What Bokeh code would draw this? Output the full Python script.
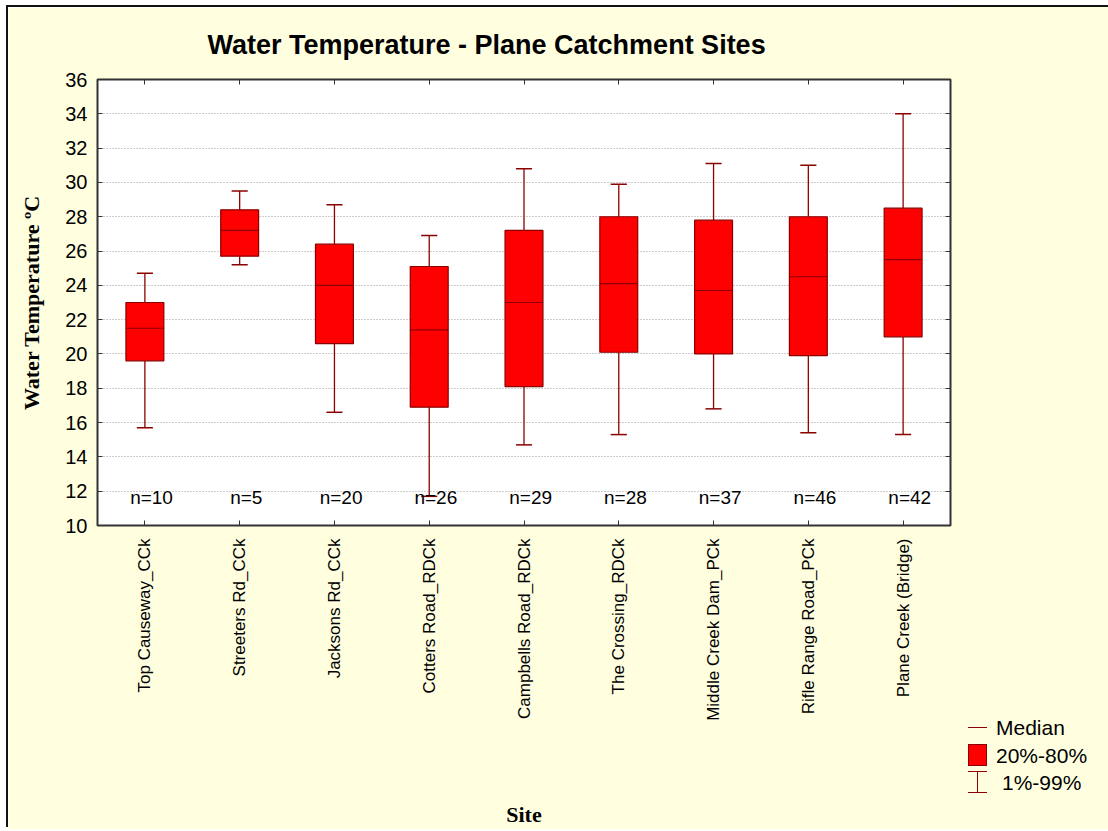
import math
from bokeh.plotting import figure
from bokeh.layouts import row
from bokeh.models import ColumnDataSource, FixedTicker, LinearAxis, Range1d, Div
from bokeh.core.properties import value
from bokeh.embed import file_html
from bokeh.resources import INLINE

categories = ["Top Causeway_CCk", "Streeters Rd_CCk", "Jacksons Rd_CCk",
              "Cotters Road_RDCk", "Campbells Road_RDCk", "The Crossing_RDCk",
              "Middle Creek Dam_PCk", "Rifle Range Road_PCk", "Plane Creek (Bridge)"]
p01 = [15.7, 25.2, 16.6, 11.7, 14.7, 15.3, 16.8, 15.4, 15.3]
q20 = [19.6, 25.7, 20.6, 16.9, 18.1, 20.1, 20.0, 19.9, 21.0]
median = [21.5, 27.2, 24.0, 21.4, 23.0, 24.1, 23.7, 24.5, 25.5]
q80 = [23.0, 28.4, 26.4, 25.1, 27.2, 28.0, 27.8, 28.0, 28.5]
p99 = [24.7, 29.5, 28.7, 26.9, 30.8, 29.9, 31.1, 31.0, 34.0]
counts = [10, 5, 20, 26, 29, 28, 37, 46, 42]
y_ticks = list(range(10, 37, 2))
legend_labels = ["Median", "20%-80%", "1%-99%"]

CREAM = "#FFFFE0"
DARK = "#8B0000"
RED = "#FF0000"
SANS = "Liberation Sans"
SERIF = "Liberation Serif"

xc = [i + 0.5 for i in range(len(categories))]
box_w = 0.4
cap_w = 0.17

src = ColumnDataSource(dict(
    x=xc, p01=p01, q20=q20, med=median, q80=q80, p99=p99,
    cl=[x - cap_w / 2 for x in xc], cr=[x + cap_w / 2 for x in xc],
    ml=[x - box_w / 2 for x in xc], mr=[x + box_w / 2 for x in xc],
    nx=[x + 0.07 for x in xc], ny=[11.65] * len(xc),
    ntext=["n=%d" % c for c in counts],
))

FIG_H = 822
p = figure(width=950, height=FIG_H, output_backend="svg", toolbar_location=None,
           x_range=Range1d(0, len(categories)), y_range=Range1d(10, 36),
           min_border_left=89, min_border_right=8, min_border_top=71,
           min_border_bottom=FIG_H - 521, margin=(7, 0, 0, 8))
p.styles = {"box-shadow": "-2px -2px 0 0 #111111"}
p.background_fill_color = "white"
p.border_fill_color = CREAM
p.outline_line_color = "#333333"
p.outline_line_width = 2

p.title.text = "Water Temperature - Plane Catchment Sites"
p.title.text_font = SANS
p.title.text_font_size = "27px"
p.title.text_font_style = "bold"
p.title.text_color = "black"
p.title.align = "left"
p.title.offset = 110
p.title.standoff = 40

# grids
p.xgrid.grid_line_color = None
p.ygrid.ticker = FixedTicker(ticks=y_ticks)
p.ygrid.grid_line_color = "#9A9A9A"
p.ygrid.grid_line_dash = "1 2"
p.ygrid.grid_line_width = 1

# axes
ax = p.xaxis[0]
ax.ticker = FixedTicker(ticks=xc)
ax.major_label_overrides = {x: c for x, c in zip(xc, categories)}
ax.major_label_orientation = math.pi / 2
ax.major_label_text_font = SANS
ax.major_label_text_font_size = "17px"
ax.major_label_text_color = "black"
ax.major_label_standoff = 13
ax.major_tick_in = 5
ax.major_tick_out = 0
ax.minor_tick_line_color = None
ax.axis_line_color = None
ax.major_tick_line_color = "#333333"
ax.axis_label = "Site"
ax.axis_label_text_font = SERIF
ax.axis_label_text_font_style = "bold"
ax.axis_label_text_font_size = "22px"
ax.axis_label_text_color = "black"
ax.axis_label_standoff = 78

ay = p.yaxis[0]
ay.ticker = FixedTicker(ticks=y_ticks)
ay.major_label_text_font = SANS
ay.major_label_text_font_size = "20px"
ay.major_label_text_color = "black"
ay.major_label_standoff = 10
ay.major_tick_in = 5
ay.major_tick_out = 0
ay.minor_tick_line_color = None
ay.axis_line_color = None
ay.major_tick_line_color = "#333333"
ay.axis_label = "Water Temperature \u00baC"
ay.axis_label_text_font = SERIF
ay.axis_label_text_font_style = "bold"
ay.axis_label_text_font_size = "22px"
ay.axis_label_text_color = "black"
ay.axis_label_standoff = 18

top_ax = LinearAxis(ticker=FixedTicker(ticks=xc), major_label_text_font_size="0px",
                    major_tick_in=5, major_tick_out=0, minor_tick_line_color=None,
                    axis_line_color=None, major_tick_line_color="#333333",
                    major_label_standoff=0)
right_ax = LinearAxis(ticker=FixedTicker(ticks=y_ticks), major_label_text_font_size="0px",
                      major_tick_in=5, major_tick_out=0, minor_tick_line_color=None,
                      axis_line_color=None, major_tick_line_color="#333333",
                      major_label_standoff=0)
p.add_layout(top_ax, "above")
p.add_layout(right_ax, "right")

# whiskers
p.segment(x0="x", y0="p01", x1="x", y1="q20", source=src, line_color=DARK, line_width=1.3)
p.segment(x0="x", y0="q80", x1="x", y1="p99", source=src, line_color=DARK, line_width=1.3)
p.segment(x0="cl", y0="p01", x1="cr", y1="p01", source=src, line_color=DARK, line_width=1.5)
p.segment(x0="cl", y0="p99", x1="cr", y1="p99", source=src, line_color=DARK, line_width=1.5)
# boxes
p.vbar(x="x", width=box_w, top="q80", bottom="q20", source=src,
       fill_color=RED, line_color=DARK, line_width=1.2)
p.segment(x0="ml", y0="med", x1="mr", y1="med", source=src, line_color=DARK, line_width=1.2)
# n labels
p.text(x="nx", y="ny", text="ntext", source=src, text_align="center",
       text_baseline="middle", text_font=value(SANS),
       text_font_size="19px", text_color="black")

# legend, drawn as HTML in the strip to the right of the chart
LW = 154
OV = 4  # overlap with the chart to avoid a gap
ab = "position:absolute;"
legend_html = (
    f'<div style="position:relative;width:{LW}px;height:{FIG_H}px;background:{CREAM};'
    f'font-family:\'{SANS}\',Arial,sans-serif;font-size:21px;color:black;">'
    f'<div style="{ab}left:{10 + OV}px;top:720px;width:19px;height:0;border-top:1.5px solid {DARK};"></div>'
    f'<div style="{ab}left:{10 + OV}px;top:737px;width:19px;height:22px;box-sizing:border-box;'
    f'background:{RED};border:1px solid {DARK};"></div>'
    f'<div style="{ab}left:{10 + OV}px;top:764px;width:19px;height:22px;box-sizing:border-box;'
    f'border-top:1.5px solid {DARK};border-bottom:1.5px solid {DARK};"></div>'
    f'<div style="{ab}left:{19 + OV}px;top:764px;width:0;height:22px;border-left:1.5px solid {DARK};"></div>'
    f'<div style="{ab}left:{38 + OV}px;top:708px;line-height:26px;white-space:nowrap;">{legend_labels[0]}</div>'
    f'<div style="{ab}left:{38 + OV}px;top:736px;line-height:26px;white-space:nowrap;">{legend_labels[1]}</div>'
    f'<div style="{ab}left:{44 + OV}px;top:763px;line-height:26px;white-space:nowrap;">{legend_labels[2]}</div>'
    '</div>'
)
lg = Div(text=legend_html, width=LW, height=FIG_H, margin=(7, 0, 0, -OV),
         styles={"background-color": CREAM, "box-shadow": "0 -2px 0 0 #111111"})

layout = row(p, lg)
open("out.html", "w").write(file_html(layout, INLINE))
